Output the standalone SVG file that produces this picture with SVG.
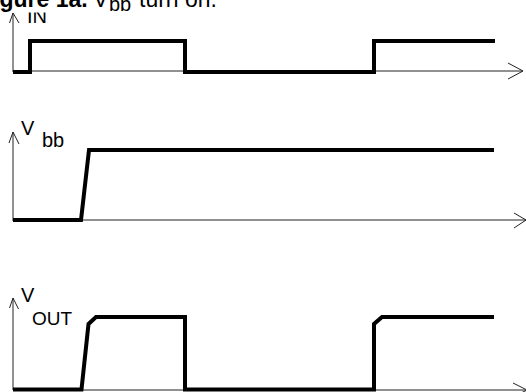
<svg xmlns="http://www.w3.org/2000/svg" width="526" height="392" viewBox="0 0 526 392">
  <style>
    .axis { fill: none; stroke: #222; stroke-width: 1; }
    .head { fill: none; stroke: #222; stroke-width: 1; stroke-linejoin: miter; }
    .wave { fill: none; stroke: #000; stroke-width: 4; stroke-linejoin: miter; stroke-linecap: butt; }
    .lbl { font-family: "Liberation Sans", Arial, sans-serif; font-size: 20px; fill: #000; }
    .sub { font-family: "Liberation Sans", Arial, sans-serif; font-size: 19px; fill: #000; }
    .title { font-family: "Liberation Sans", Arial, sans-serif; font-size: 23px; fill: #000; }
  </style>
  <defs>
    <clipPath id="clipIn">
      <rect x="0" y="12.5" width="80" height="40"/>
    </clipPath>
  </defs>
  <rect width="526" height="392" fill="#fff"/>

  <g id="title">
    <text class="title" y="7"><tspan x="-21" font-weight="bold">Figure 1a.</tspan><tspan x="93">V</tspan><tspan x="109" y="11" font-size="20px">bb</tspan><tspan x="139" y="7">turn on.</tspan></text>
  </g>

  <g id="connectors">
    <!-- IN axes -->
    <line class="axis" x1="13" y1="13" x2="13" y2="72"/>
    <polyline class="head" points="9.5,23 13,13 19,23"/>
    <line class="axis" x1="13" y1="71" x2="523" y2="71"/>
    <polyline class="head" points="508,63 523,71 508,79"/>
    <!-- Vbb axes -->
    <line class="axis" x1="13" y1="132" x2="13" y2="221"/>
    <polyline class="head" points="9,143 13,132 19,144"/>
    <line class="axis" x1="13" y1="220" x2="526" y2="220"/>
    <polyline class="head" points="514,213 526,220 514,228"/>
    <!-- VOUT axes -->
    <line class="axis" x1="13" y1="298" x2="13" y2="390"/>
    <polyline class="head" points="9.5,308 13,298 18.5,309"/>
    <line class="axis" x1="13" y1="390" x2="526" y2="390"/>
    <polyline class="head" points="513,383 527,390 513,397"/>
  </g>

  <g id="sig-in">
    <path class="wave" d="M13,72 H30 V41 H185 V72 H374 V41 H495"/>
    <text class="lbl" x="27" y="23" clip-path="url(#clipIn)">IN</text>
  </g>

  <g id="sig-vbb">
    <path class="wave" d="M13,220 H81 L89,150 H494"/>
    <text class="lbl" x="21" y="135">V</text>
    <text class="lbl" x="42" y="147">bb</text>
  </g>

  <g id="sig-vout">
    <path class="wave" d="M13,389.5 H81.5 L88.5,324 L96,317 H185 V389.5 H374 V324 L382,317 H494"/>
    <text class="lbl" x="21" y="302">V</text>
    <text class="sub" x="32" y="325">OUT</text>
  </g>
</svg>
